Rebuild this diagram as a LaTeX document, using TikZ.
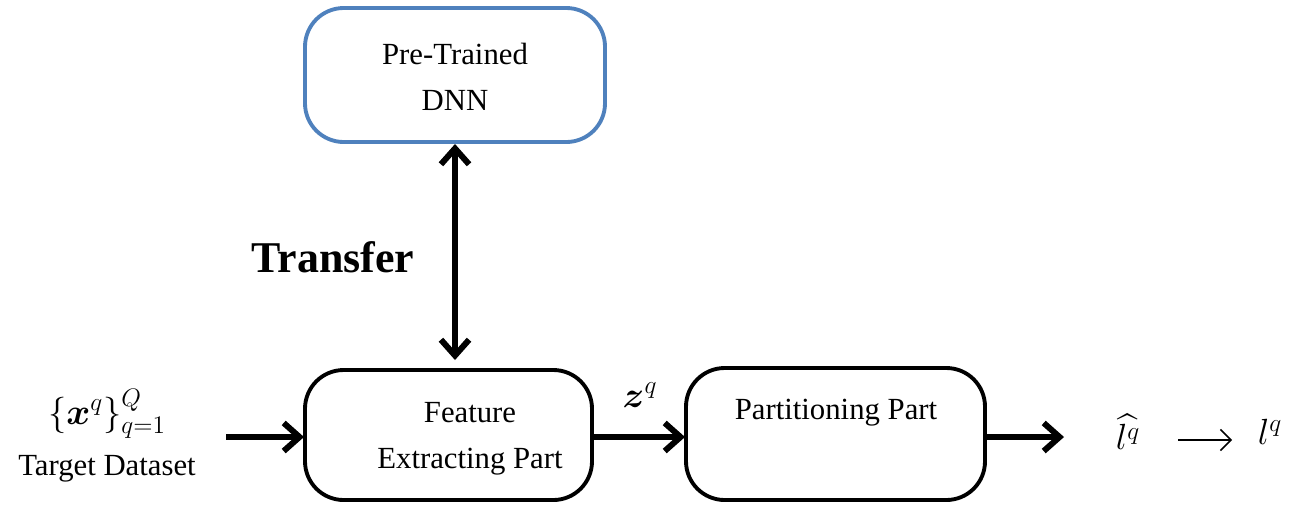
\documentclass[tikz,border=0pt]{standalone}
\usepackage{fontspec}
\setmainfont{Liberation Serif}
\usepackage{amsmath,bm}
\usetikzlibrary{arrows.meta}
\definecolor{boxblue}{RGB}{79,129,189}
\tikzset{
  rbox/.style={draw=black, line width=2.2pt, rounded corners=22pt, fill=white},
  bbox/.style={draw=boxblue, line width=2.2pt, rounded corners=22pt, fill=white},
  thick arrow/.style={line width=3.4pt, -{Straight Barb[length=9pt,width=16pt,line width=3.4pt]}},
  dbl arrow/.style={line width=3.4pt, {Straight Barb[length=9pt,width=16pt,line width=3.4pt]}-{Straight Barb[length=9pt,width=16pt,line width=3.4pt]}},
  lbl/.style={font=\fontsize{17.5pt}{26pt}\selectfont, align=center, inner sep=1pt},
  mlbl/.style={font=\fontsize{21pt}{25pt}\selectfont, inner sep=1pt},
}
\begin{document}
\begin{tikzpicture}[x=0.02cm,y=-0.02cm]
\useasboundingbox (0,0) rectangle (1307,508);
% boxes
\draw[bbox] (305,8) rectangle (605,142);
\coordinate (dnnb) at (455,144);
\node[lbl] (dnn) at (455,77) {Pre-Trained\\DNN};
\draw[rbox] (305,370) rectangle (592,500);
\coordinate (fet) at (455,360);
\coordinate (fel) at (304,437);
\coordinate (fer) at (592,437);
\node[lbl] (fe) at (470,439) {Feature\\Extracting Part};
\draw[rbox] (686,368) rectangle (985,500);
\coordinate (ppl) at (685,437);
\coordinate (ppr) at (985,437);
\node[lbl] (pp) at (836,413) {Partitioning Part};
% transfer
\draw[dbl arrow] (dnnb) -- (fet);
\node[font=\fontsize{25pt}{30pt}\selectfont\bfseries] (tr) at (333,257) {Transfer};
% input
\node[mlbl] (xq) at (107,414) {$\{\bm{x}^{q}\}_{q=1}^{Q}$};
\node[lbl] (td) at (107,469) {Target Dataset};
\coordinate (in0) at (226,437);
\draw[thick arrow] (in0) -- (fel);
% z
\draw[thick arrow] (fer) -- (ppl);
\node[mlbl] (zq) at (640,395) {$\bm{z}^{q}$};
% output
\coordinate (out1) at (1064,437);
\draw[thick arrow] (ppr) -- (out1);
\node[mlbl] (lh) at (1128,432) {$\widehat{l^{q}}$};
\node[mlbl] (l) at (1270,432) {$l^{q}$};
\coordinate (a0) at (1178,440);
\coordinate (a1) at (1232,440);
\draw[line width=0.9pt, -{Straight Barb[length=6pt,width=12pt]}] (a0) -- (a1);
\end{tikzpicture}
\end{document}
